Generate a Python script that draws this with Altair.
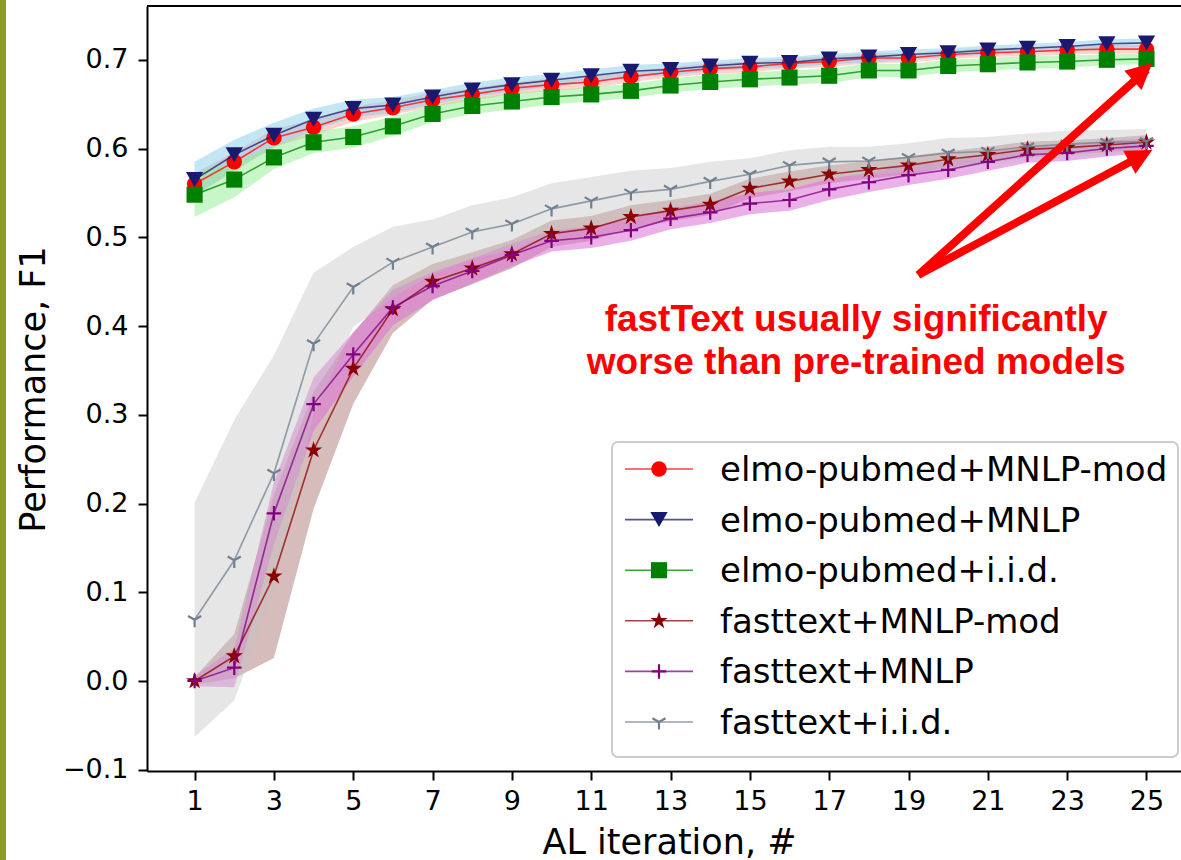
import altair as alt
import pandas as pd

# AL iteration index
iterations = list(range(1, 26))

series_names = [
    "elmo-pubmed+MNLP-mod",
    "elmo-pubmed+MNLP",
    "elmo-pubmed+i.i.d.",
    "fasttext+MNLP-mod",
    "fasttext+MNLP",
    "fasttext+i.i.d.",
]

# mean F1 per iteration
f1_elmo_mnlp_mod = [0.560, 0.585, 0.612, 0.624, 0.639, 0.646, 0.655, 0.661, 0.668, 0.672, 0.675, 0.681, 0.686,
                    0.690, 0.692, 0.696, 0.698, 0.702, 0.702, 0.706, 0.708, 0.709, 0.711, 0.712, 0.712]
f1_elmo_mnlp = [0.565, 0.593, 0.615, 0.633, 0.645, 0.649, 0.658, 0.666, 0.672, 0.677, 0.682, 0.687, 0.689,
                0.693, 0.696, 0.697, 0.701, 0.703, 0.706, 0.708, 0.711, 0.713, 0.715, 0.718, 0.719]
f1_elmo_iid = [0.548, 0.565, 0.590, 0.607, 0.613, 0.625, 0.639, 0.648, 0.653, 0.658, 0.661, 0.665, 0.671,
               0.675, 0.678, 0.680, 0.682, 0.688, 0.688, 0.693, 0.695, 0.697, 0.698, 0.700, 0.701]
f1_ft_mnlp_mod = [0.000, 0.028, 0.118, 0.260, 0.352, 0.419, 0.450, 0.465, 0.481, 0.504, 0.510, 0.523, 0.530,
                  0.537, 0.555, 0.563, 0.571, 0.576, 0.581, 0.588, 0.593, 0.599, 0.601, 0.604, 0.607]
f1_ft_mnlp = [0.000, 0.015, 0.189, 0.312, 0.368, 0.421, 0.445, 0.462, 0.480, 0.496, 0.500, 0.508, 0.521,
              0.528, 0.538, 0.542, 0.554, 0.562, 0.570, 0.576, 0.585, 0.593, 0.595, 0.600, 0.603]
f1_ft_iid = [0.069, 0.136, 0.234, 0.380, 0.444, 0.472, 0.489, 0.506, 0.515, 0.532, 0.541, 0.550, 0.554,
             0.563, 0.571, 0.581, 0.585, 0.586, 0.590, 0.595, 0.597, 0.602, 0.605, 0.607, 0.608]

# spread (one standard deviation) per iteration
sd_elmo_mnlp_mod = [0.012, 0.011, 0.010, 0.009, 0.009, 0.008, 0.008, 0.007, 0.007, 0.007, 0.007, 0.006, 0.006,
                    0.006, 0.006, 0.006, 0.006, 0.006, 0.005, 0.005, 0.005, 0.005, 0.005, 0.005, 0.005]
sd_elmo_mnlp = [0.020, 0.017, 0.014, 0.012, 0.010, 0.009, 0.008, 0.008, 0.008, 0.007, 0.007, 0.007, 0.007,
                0.006, 0.006, 0.006, 0.006, 0.006, 0.006, 0.005, 0.005, 0.005, 0.005, 0.005, 0.005]
sd_elmo_iid = [0.025, 0.020, 0.013, 0.012, 0.012, 0.011, 0.009, 0.009, 0.009, 0.008, 0.008, 0.008, 0.008,
               0.008, 0.008, 0.008, 0.008, 0.008, 0.007, 0.007, 0.007, 0.007, 0.007, 0.006, 0.006]
sd_ft_mnlp_mod = [0.004, 0.025, 0.092, 0.066, 0.040, 0.027, 0.020, 0.018, 0.016, 0.015, 0.014, 0.013, 0.012,
                  0.012, 0.011, 0.011, 0.010, 0.010, 0.010, 0.009, 0.009, 0.009, 0.008, 0.008, 0.008]
sd_ft_mnlp = [0.006, 0.022, 0.035, 0.030, 0.025, 0.020, 0.016, 0.014, 0.013, 0.012, 0.012, 0.012, 0.012,
              0.012, 0.012, 0.012, 0.012, 0.011, 0.011, 0.010, 0.010, 0.009, 0.009, 0.009, 0.008]
sd_ft_iid = [0.132, 0.158, 0.133, 0.080, 0.045, 0.040, 0.031, 0.030, 0.030, 0.029, 0.027, 0.025, 0.024,
             0.022, 0.018, 0.017, 0.017, 0.016, 0.016, 0.017, 0.016, 0.015, 0.015, 0.014, 0.014]

means = [f1_elmo_mnlp_mod, f1_elmo_mnlp, f1_elmo_iid, f1_ft_mnlp_mod, f1_ft_mnlp, f1_ft_iid]
spreads = [sd_elmo_mnlp_mod, sd_elmo_mnlp, sd_elmo_iid, sd_ft_mnlp_mod, sd_ft_mnlp, sd_ft_iid]

# annotation text and arrows (data coordinates)
note_lines = ["fastText usually significantly", "worse than pre-trained models"]
note_x = [17.68, 17.68]
note_y = [0.3944, 0.3459]
arrow_tail_x = [19.245, 19.245]
arrow_tail_y = [0.4575, 0.4575]
arrow_shaft_end_x = [25.009, 24.923]
arrow_shaft_end_y = [0.6888, 0.5930]
arrow_tip_x = [25.146, 25.146]
arrow_tip_y = [0.6963, 0.5983]
arrow_angle = [48.1, 61.9]

# ---- styling ----
line_colors = ["#ff0000", "#191970", "#008000", "#8b0000", "#800080", "#708090"]
band_colors = ["#fa8072", "#87ceeb", "#90ee90", "#bc8f8f", "#da70d6", "#c0c0c0"]
band_opacity = [0.35, 0.5, 0.5, 0.6, 0.55, 0.4]

STAR = ("M0,-1 L0.225,-0.309 L0.951,-0.309 L0.363,0.118 L0.588,0.809 L0,0.382 "
        "L-0.588,0.809 L-0.363,0.118 L-0.951,-0.309 L-0.225,-0.309 Z")
PLUS = "M-1,0 L1,0 M0,-1 L0,1"
TRI_DOWN = "M0,0 L0,1 M0,0 L-0.866,-0.5 M0,0 L0.866,-0.5"
markers = [
    dict(shape="circle", size=240, filled=True),
    dict(shape="triangle-down", size=300, filled=True),
    dict(shape="square", size=260, filled=True),
    dict(shape=STAR, size=330, filled=True),
    dict(shape=PLUS, size=210, filled=False),
    dict(shape=TRI_DOWN, size=230, filled=False),
]

FONT = "DejaVu Sans"
PLOT_W, PLOT_H = 1034, 765

records = []
for name, mean, sd in zip(series_names, means, spreads):
    for it, m, s in zip(iterations, mean, sd):
        records.append({"series": name, "iteration": it, "f1": m,
                        "lo": round(m - s, 4), "hi": round(m + s, 4)})
data = pd.DataFrame(records)

x_scale = alt.Scale(domain=[-0.2, 25.87], nice=False, zero=False)
y_scale = alt.Scale(domain=[-0.1014, 0.7606], nice=False, zero=False)

x_axis = alt.Axis(
    values=list(range(1, 26, 2)), title="AL iteration, #", grid=False,
    labelFont=FONT, labelFontSize=27, labelColor="black", labelPadding=8,
    tickSize=9, tickWidth=2, tickColor="black", domainColor="black", domainWidth=2,
    titleFont=FONT, titleFontSize=35, titleFontWeight="normal", titleColor="black",
    titleX=522, titleY=82, titleBaseline="alphabetic", titleAlign="center", zindex=1,
)
y_axis = alt.Axis(
    values=[-0.1, 0.0, 0.1, 0.2, 0.3, 0.4, 0.5, 0.6, 0.7], format=".1f",
    title="Performance, F1", grid=False,
    labelFont=FONT, labelFontSize=27, labelColor="black", labelPadding=10,
    tickSize=9, tickWidth=2, tickColor="black", domainColor="black", domainWidth=2,
    titleFont=FONT, titleFontSize=35, titleFontWeight="normal", titleColor="black",
    titleX=-103, titleY=383, titleAngle=270, titleBaseline="alphabetic",
    titleAlign="center", zindex=1,
)


def xq(field):
    return alt.X(f"{field}:Q", scale=x_scale, axis=x_axis)


def yq(field):
    return alt.Y(f"{field}:Q", scale=y_scale, axis=y_axis)


base = alt.Chart(data)
layers = []

# shaded bands first, underneath every line
for name, col, op in zip(series_names, band_colors, band_opacity):
    layers.append(
        base.transform_filter(alt.datum.series == name)
        .mark_area(color=col, opacity=op)
        .encode(x=xq("iteration"), y=yq("lo"), y2="hi:Q")
    )

# lines and markers
for name, col, mk in zip(series_names, line_colors, markers):
    sub = base.transform_filter(alt.datum.series == name)
    layers.append(
        sub.mark_line(color=col, strokeWidth=1.6, opacity=0.75)
        .encode(x=xq("iteration"), y=yq("f1"))
    )
    if mk["filled"]:
        pt = sub.mark_point(shape=mk["shape"], size=mk["size"], filled=True,
                            color=col, opacity=1, strokeWidth=0.5)
    else:
        pt = sub.mark_point(shape=mk["shape"], size=mk["size"], filled=False,
                            color=col, opacity=1, strokeWidth=2.2)
    layers.append(pt.encode(x=xq("iteration"), y=yq("f1")))

# top spine
one = pd.DataFrame({"k": [0]})
layers.append(
    alt.Chart(one).mark_rule(color="black", strokeWidth=2)
    .encode(x=alt.value(0), x2=alt.value(PLOT_W), y=alt.value(0))
)

# olive strip at the far left edge of the canvas
layers.append(
    alt.Chart(one).mark_rect(color="#8d9a23")
    .encode(x=alt.value(-147), x2=alt.value(-141), y=alt.value(-6), y2=alt.value(860))
)

# legend box
LEG_X0, LEG_X1, LEG_Y0, LEG_Y1 = 465, 1031, 436, 751
ROW0, STEP = 463, 50.6
layers.append(
    alt.Chart(one).mark_rect(fill="white", fillOpacity=0.8, stroke="#cccccc",
                             strokeWidth=2, cornerRadius=6)
    .encode(x=alt.value(LEG_X0), x2=alt.value(LEG_X1), y=alt.value(LEG_Y0), y2=alt.value(LEG_Y1))
)
for i, (name, col, mk) in enumerate(zip(series_names, line_colors, markers)):
    ry = ROW0 + i * STEP
    row = alt.Chart(pd.DataFrame({"label": [name]}))
    layers.append(
        row.mark_rule(color=col, strokeWidth=1.6, opacity=0.75)
        .encode(x=alt.value(478), x2=alt.value(546), y=alt.value(ry))
    )
    if mk["filled"]:
        lp = row.mark_point(shape=mk["shape"], size=mk["size"], filled=True,
                            color=col, opacity=1, strokeWidth=0.5)
    else:
        lp = row.mark_point(shape=mk["shape"], size=mk["size"], filled=False,
                            color=col, opacity=1, strokeWidth=2.2)
    layers.append(lp.encode(x=alt.value(512), y=alt.value(ry)))
    layers.append(
        row.mark_text(font=FONT, fontSize=34, color="black", align="left", baseline="alphabetic")
        .encode(x=alt.value(573), y=alt.value(ry + 12), text="label:N")
    )

# annotation: arrows and text
arrows = pd.DataFrame({
    "x0": arrow_tail_x, "y0": arrow_tail_y,
    "x1": arrow_shaft_end_x, "y1": arrow_shaft_end_y,
    "tx": arrow_tip_x, "ty": arrow_tip_y, "ang": arrow_angle,
})
layers.append(
    alt.Chart(arrows).mark_rule(color="#ff0000", strokeWidth=8)
    .encode(x=xq("x0"), y=yq("y0"), x2="x1:Q", y2="y1:Q")
)
layers.append(
    alt.Chart(arrows).mark_point(shape="M0,0 L1,2 L-1,2 Z", size=676, filled=True,
                                 color="#ff0000", opacity=1)
    .encode(x=xq("tx"), y=yq("ty"), angle=alt.Angle("ang:Q", scale=None))
)
notes = pd.DataFrame({"text": note_lines, "x": note_x, "y": note_y})
layers.append(
    alt.Chart(notes).mark_text(font="Liberation Sans", fontSize=37, fontWeight="bold",
                               color="#ff0000", align="center", baseline="alphabetic")
    .encode(x=xq("x"), y=yq("y"), text="text:N")
)

chart = (
    alt.layer(*layers)
    .properties(width=PLOT_W, height=PLOT_H,
                autosize=alt.AutoSizeParams(type="none"),
                padding={"left": 147, "top": 6, "right": 0, "bottom": 89},
                background="white")
    .configure_view(stroke=None)
)

chart.save("out.html", embed_options={"renderer": "svg", "actions": False})
